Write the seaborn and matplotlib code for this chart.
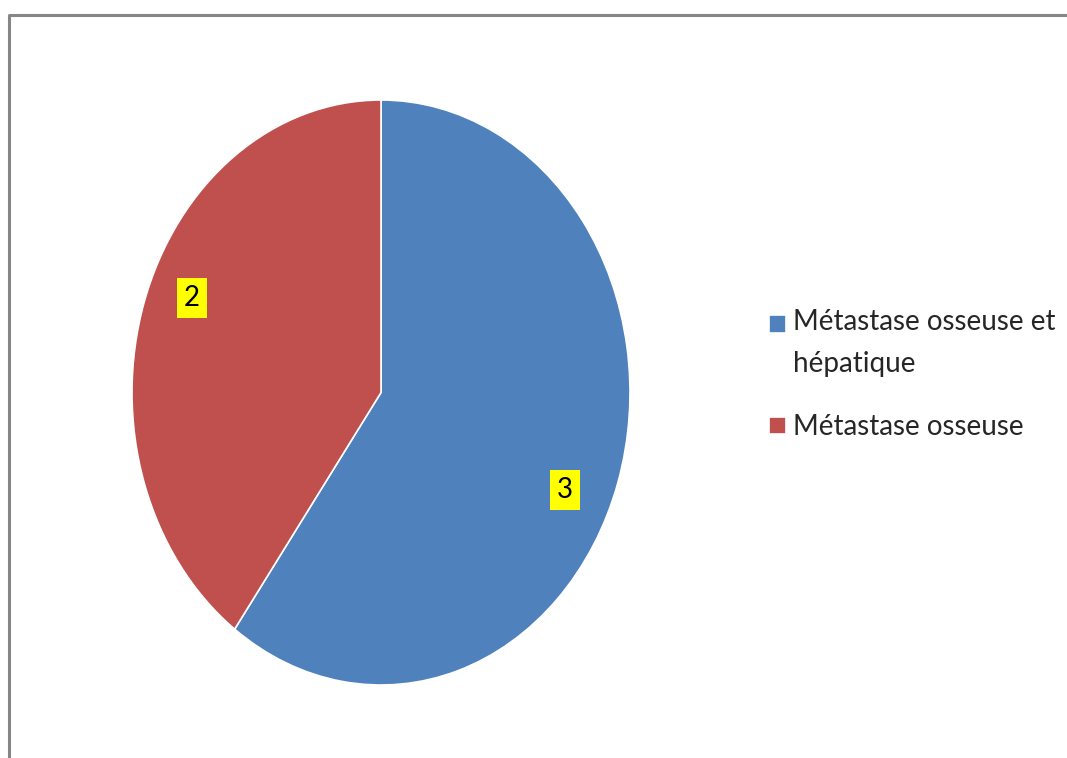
import matplotlib
matplotlib.use("Agg")
import matplotlib.pyplot as plt
from matplotlib.lines import Line2D
import seaborn as sns

# Data
labels = ["Métastase osseuse et\nhépatique", "Métastase osseuse"]
values = [3, 2]
colors = ["#4F81BD", "#C0504D"]

sns.set_theme(style="white")
plt.rcParams["font.family"] = ["Lato", "DejaVu Sans"]

W, H = 1067, 758
fig = plt.figure(figsize=(W / 100, H / 100), dpi=100)
fig.patch.set_facecolor("white")

# Pie area (stretched ellipse like the original)
ax = fig.add_axes([132 / W, (H - 685) / H, 498 / W, 585 / H])
total = sum(values)
wedges, texts, autotexts = ax.pie(
    values,
    colors=colors,
    startangle=90,
    counterclock=False,
    autopct=lambda p: f"{round(p * total / 100)}",
    pctdistance=0.82,
    wedgeprops=dict(linewidth=1.2, edgecolor="white"),
    textprops=dict(fontsize=20, color="black", family=["Lato", "DejaVu Sans"]),
)
# small nudges so the value boxes sit where the original has them
nudges = [(-0.04, -0.08), (0.02, 0.07)]
for t, (dx, dy) in zip(autotexts, nudges):
    x, y = t.get_position()
    t.set_position((x + dx, y + dy))
    t.set_bbox(dict(boxstyle="square,pad=0.25", facecolor="#FFFF00", edgecolor="none"))
ax.set_aspect("auto")
ax.set_xlim(-1, 1)
ax.set_ylim(-1, 1)
ax.axis("off")

# Legend
leg = fig.legend(
    wedges,
    labels,
    loc="upper left",
    bbox_to_anchor=(744 / W, 1 - 284 / H),
    frameon=False,
    fontsize=20,
    handlelength=0.6,
    handleheight=0.6,
    handletextpad=0.25,
    labelspacing=1.35,
)
for t in leg.get_texts():
    t.set_linespacing(1.75)
# put the first marker next to the first text line, as in the original
first = leg.get_patches()[0]
first.set_y(first.get_y() + 14)

# Chart border (top and left edges visible)
fig.add_artist(Line2D([9 / W, 9 / W, 1.0], [0.0, 1 - 15 / H, 1 - 15 / H],
                      transform=fig.transFigure, color="#868686", lw=2.2))

fig.savefig("out.png", dpi=100)
